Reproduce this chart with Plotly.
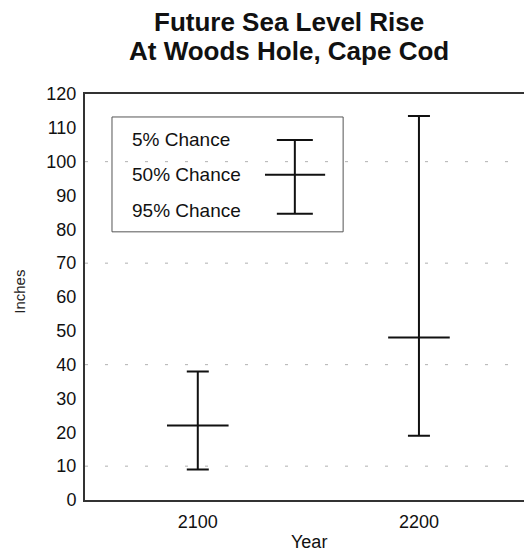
import plotly.graph_objects as go

# Data
years = [2100, 2200]
chance_5 = [9, 19]
chance_50 = [22, 48]
chance_95 = [38, 113.5]
y_ticks = list(range(0, 121, 10))
grid_levels = [10, 40, 70, 100]
legend_labels = ["5% Chance", "50% Chance", "95% Chance"]

lo = chance_5
mid = chance_50
hi = chance_95

FONT = "Liberation Sans, Arial, Helvetica, sans-serif"

fig = go.Figure()

fig.add_trace(go.Scatter(
    x=years, y=mid, mode="markers",
    marker=dict(symbol="line-ew", size=44, color="black",
                line=dict(width=2, color="#111")),
    error_y=dict(type="data", symmetric=False,
                 array=[h - m for h, m in zip(hi, mid)],
                 arrayminus=[m - l for m, l in zip(mid, lo)],
                 width=11, thickness=2, color="#111"),
    showlegend=False, hoverinfo="skip"))

shapes = []
for g in grid_levels:
    shapes.append(dict(type="line", xref="paper", yref="y", x0=0, x1=1, y0=g, y1=g,
                       line=dict(color="#b0b0b0", width=1, dash="3px,17px"), layer="below"))

# Legend box and glyph (paper coords)
shapes.append(dict(type="rect", xref="paper", yref="paper", x0=0.0615, x1=0.588,
                   y0=0.6605, y1=0.9434, line=dict(color="#555", width=1)))
shapes.append(dict(type="line", xref="paper", yref="paper", x0=0.478, x1=0.478,
                   y0=0.705, y1=0.887, line=dict(color="#111", width=2)))
shapes.append(dict(type="line", xref="paper", yref="paper", x0=0.437, x1=0.519,
                   y0=0.887, y1=0.887, line=dict(color="#111", width=2)))
shapes.append(dict(type="line", xref="paper", yref="paper", x0=0.437, x1=0.519,
                   y0=0.705, y1=0.705, line=dict(color="#111", width=2)))
shapes.append(dict(type="line", xref="paper", yref="paper", x0=0.410, x1=0.547,
                   y0=0.801, y1=0.801, line=dict(color="#111", width=2)))

annotations = []
for lab, yy in zip(legend_labels, [0.887, 0.801, 0.712]):
    annotations.append(dict(text=lab, xref="paper", yref="paper", x=0.1025, y=yy,
                            xanchor="left", yanchor="middle", showarrow=False,
                            font=dict(family=FONT, size=19, color="#111")))

PH = 406.5
annotations.append(dict(text="<b>Future Sea Level Rise</b>", xref="paper", yref="paper",
                        x=0.465, y=1 + (94 - 22) / PH, xanchor="center", yanchor="middle",
                        showarrow=False, font=dict(family=FONT, size=26, color="#111")))
annotations.append(dict(text="<b>At Woods Hole, Cape Cod</b>", xref="paper", yref="paper",
                        x=0.465, y=1 + (94 - 51) / PH, xanchor="center", yanchor="middle",
                        showarrow=False, font=dict(family=FONT, size=26, color="#111")))
annotations.append(dict(text="Inches", xref="paper", yref="paper", textangle=-90,
                        x=(20 - 85) / 439, y=(500.5 - 292) / PH, xanchor="center",
                        yanchor="middle", showarrow=False,
                        font=dict(family=FONT, size=15, color="#222")))
annotations.append(dict(text="Year", xref="paper", yref="paper",
                        x=(309 - 85) / 439, y=(500.5 - 543) / PH, xanchor="center",
                        yanchor="middle", showarrow=False,
                        font=dict(family=FONT, size=18, color="#111")))

fig.update_layout(
    width=524, height=552,
    margin=dict(l=85, r=0, t=94, b=52, autoexpand=False),
    paper_bgcolor="white", plot_bgcolor="white",
    font=dict(family=FONT, size=18, color="#111"),
    shapes=shapes, annotations=annotations,
    xaxis=dict(range=[2049, 2247.5], tickvals=years, ticktext=[str(y) for y in years],
               showgrid=False, zeroline=False, showline=True, linecolor="#333", linewidth=2,
               mirror=True, ticks="", ticklabelstandoff=4, automargin=False,
               tickfont=dict(size=18)),
    yaxis=dict(range=[0, 120], tickvals=y_ticks, showgrid=False, zeroline=False,
               showline=True, linecolor="#333", linewidth=2, ticks="", ticklabelstandoff=3,
               automargin=False),
)

fig.write_html("out.html", config={"displayModeBar": False},
               post_script="document.body.style.margin='0';document.body.style.overflow='hidden';")
